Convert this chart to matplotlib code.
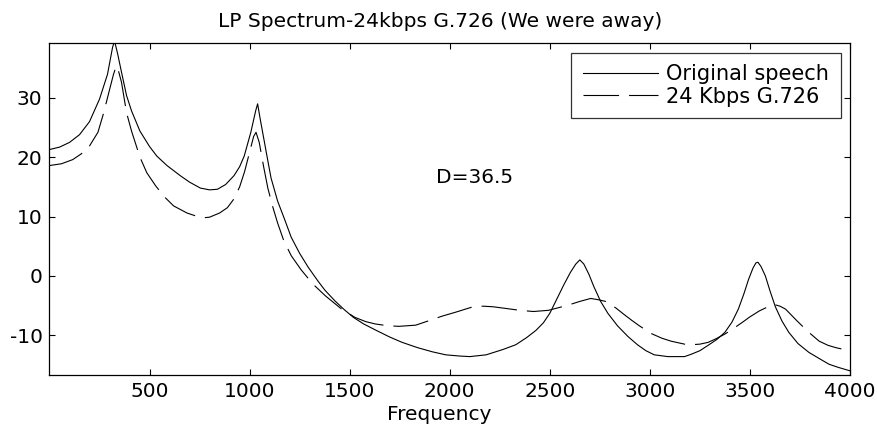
import matplotlib
matplotlib.use("Agg")
import matplotlib.pyplot as plt

plt.rcParams['font.family'] = ['DejaVu Sans']

title = "LP Spectrum-24kbps G.726 (We were away)"
xlabel = "Frequency"
legend_labels = ["Original speech", "24 Kbps G.726"]
annotation = "D=36.5"

xticks = [500, 1000, 1500, 2000, 2500, 3000, 3500, 4000]
yticks = [-10, 0, 10, 20, 30]

orig_f = [0, 50, 100, 150, 200, 250, 290, 315, 325, 340, 360, 385, 410, 452, 500, 536, 587,
          653, 700, 754, 800, 839, 880, 922, 950, 973, 1006, 1030, 1040, 1052, 1065, 1091,
          1107, 1140, 1174, 1208, 1250, 1292, 1340, 1376, 1426, 1470, 1519, 1570, 1628, 1700,
          1762, 1840, 1914, 1980, 2048, 2100, 2182, 2266, 2330, 2384, 2430, 2468, 2500, 2535,
          2570, 2603, 2630, 2650, 2670, 2695, 2720, 2754, 2790, 2838, 2890, 2938, 2980, 3022,
          3090, 3173, 3207, 3250, 3291, 3335, 3375, 3410, 3442, 3470, 3493, 3515, 3530, 3540,
          3555, 3577, 3600, 3627, 3660, 3694, 3740, 3795, 3850, 3896, 3940, 3980, 4000]
orig_db = [21.3, 21.7, 22.5, 23.8, 26.0, 29.8, 34.0, 38.5, 39.6, 37.5, 34.3, 30.4, 27.8, 24.4,
           21.8, 20.2, 18.6, 16.9, 15.8, 14.8, 14.5, 14.6, 15.4, 16.9, 18.4, 20.2, 24.2, 27.8,
           29.0, 26.6, 24.2, 19.4, 16.5, 12.6, 9.6, 6.5, 3.8, 1.5, -0.8, -2.4, -4.2, -5.6, -7.0,
           -8.1, -9.1, -10.3, -11.2, -12.1, -12.8, -13.3, -13.5, -13.6, -13.3, -12.4, -11.6,
           -10.4, -9.2, -7.9, -6.3, -3.9, -1.5, 0.6, 2.0, 2.7, 2.0, 0.3, -1.8, -4.3, -6.3, -8.4,
           -10.2, -11.6, -12.6, -13.3, -13.6, -13.6, -13.2, -12.6, -11.7, -10.7, -9.5, -7.8,
           -5.6, -3.0, -0.6, 1.3, 2.2, 2.3, 1.6, 0.0, -2.5, -5.2, -7.6, -9.5, -11.4, -12.9,
           -14.0, -14.9, -15.4, -15.8, -16.0]

g726_f = [0, 60, 116, 160, 200, 242, 270, 301, 320, 334, 345, 360, 385, 410, 452, 486, 530,
          575, 620, 687, 740, 771, 800, 850, 889, 920, 950, 975, 998, 1020, 1032, 1048, 1070,
          1091, 1115, 1140, 1170, 1208, 1258, 1317, 1380, 1460, 1527, 1580, 1628, 1690, 1746,
          1830, 1900, 1960, 2031, 2107, 2166, 2216, 2284, 2350, 2418, 2493, 2550, 2603, 2650,
          2704, 2740, 2779, 2830, 2871, 2910, 2947, 3006, 3060, 3106, 3173, 3207, 3250, 3291,
          3330, 3375, 3420, 3459, 3500, 3547, 3590, 3619, 3650, 3678, 3730, 3787, 3846, 3890,
          3930, 3970, 4000]
g726_db = [18.6, 18.9, 19.6, 20.6, 21.9, 24.2, 27.4, 31.5, 34.0, 35.4, 34.5, 32.6, 27.5, 24.4,
           20.0, 17.4, 15.2, 13.3, 11.8, 10.6, 10.0, 9.8, 9.9, 10.6, 11.5, 12.9, 15.0, 17.6,
           20.6, 23.5, 24.2, 22.5, 18.4, 14.8, 11.7, 8.9, 6.0, 3.4, 1.0, -1.4, -3.4, -5.6, -7.0,
           -7.7, -8.1, -8.4, -8.5, -8.3, -7.5, -6.8, -6.1, -5.3, -5.1, -5.2, -5.5, -5.8, -6.0,
           -5.8, -5.3, -4.8, -4.3, -3.8, -4.0, -4.3, -5.4, -6.5, -7.5, -8.4, -9.7, -10.5, -11.0,
           -11.5, -11.6, -11.5, -11.2, -10.6, -9.8, -8.8, -7.9, -6.9, -5.9, -5.2, -4.8, -5.1,
           -5.6, -7.4, -9.3, -11.0, -11.7, -12.1, -12.4, -12.5]

fig = plt.figure(figsize=(8.78, 4.29), dpi=100)
ax = fig.add_axes([49.5 / 878, 1 - 375 / 429, (850 - 49.5) / 878, (375 - 43.3) / 429])

ax.plot(orig_f, orig_db, color='black', lw=0.8, label=legend_labels[0])
line2, = ax.plot(g726_f, g726_db, color='black', lw=0.8, label=legend_labels[1])
line2.set_dashes([32, 9])

ax.set_xlim(0, 4000)
ax.set_ylim(-16.7, 39.2)
ax.set_xticks(xticks)
ax.set_yticks(yticks)
ax.set_yticklabels([str(v) for v in yticks])
ax.tick_params(direction='in', length=4, width=0.8, top=True, right=True,
               labelsize=14.5, pad=5)
for s in ax.spines.values():
    s.set_linewidth(0.9)

ax.set_title(title, fontsize=14.5, pad=12, x=0.488)
ax.set_xlabel(xlabel, fontsize=14.5, labelpad=3)
ax.xaxis.label.set_x(0.487)

ax.text(1930, 16.6, annotation, fontsize=14.5, va='center', ha='left')

leg = ax.legend(loc='upper right', fontsize=15, frameon=True, fancybox=False,
                edgecolor='black', handlelength=3.6, borderaxespad=0.45,
                handletextpad=0.4, labelspacing=0.12, borderpad=0.55)
leg.get_frame().set_linewidth(0.9)

fig.savefig("out.png", dpi=100)
